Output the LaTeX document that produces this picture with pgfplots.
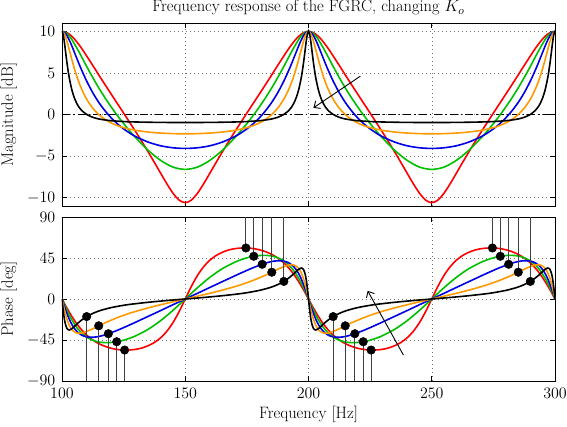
\RequirePackage{fix-cm}
\documentclass[border=0pt]{standalone}
\usepackage{pgfplots}
\pgfplotsset{compat=1.18}
\usepackage{pgfplotstable}
\usetikzlibrary{arrows.meta}
\definecolor{mred}{RGB}{255,0,0}
\definecolor{mgreen}{RGB}{0,191,0}
\definecolor{mblue}{RGB}{0,0,230}
\definecolor{morange}{RGB}{255,153,0}

% columns: frequency [Hz], magnitude [dB], phase [deg]
\pgfplotstableread{
f m p
100 10.00 0
100.5 9.60 -12.7
101 8.62 -22.6
101.5 7.42 -28.8
102 6.25 -32.2
102.5 5.22 -33.7
103 4.33 -34.0
104 2.96 -32.6
105 2.01 -30.2
106 1.33 -27.6
107 0.84 -25.2
108 0.48 -23.0
110 0.01 -19.3
112.5 -0.34 -15.8
115 -0.54 -13.1
117.5 -0.66 -11.1
120 -0.75 -9.4
122.5 -0.80 -8.1
125 -0.85 -6.9
127.5 -0.88 -5.9
130 -0.90 -5.1
135 -0.93 -3.6
140 -0.95 -2.3
145 -0.96 -1.1
150 -0.96 0
155 -0.96 1.1
160 -0.95 2.3
165 -0.93 3.6
170 -0.90 5.1
172.5 -0.88 5.9
175 -0.85 6.9
177.5 -0.80 8.1
180 -0.75 9.4
182.5 -0.66 11.1
185 -0.54 13.1
187.5 -0.34 15.8
190 0.01 19.3
192 0.48 23.0
193 0.84 25.2
194 1.33 27.6
195 2.01 30.2
196 2.96 32.6
197 4.33 34.0
197.5 5.22 33.7
198 6.25 32.2
198.5 7.42 28.8
199 8.62 22.6
199.5 9.60 12.7
200 10.00 0
200.5 9.60 -12.7
201 8.62 -22.6
201.5 7.42 -28.8
202 6.25 -32.2
202.5 5.22 -33.7
203 4.33 -34.0
204 2.96 -32.6
205 2.01 -30.2
206 1.33 -27.6
207 0.84 -25.2
208 0.48 -23.0
210 0.01 -19.3
212.5 -0.34 -15.8
215 -0.54 -13.1
217.5 -0.66 -11.1
220 -0.75 -9.4
222.5 -0.80 -8.1
225 -0.85 -6.9
227.5 -0.88 -5.9
230 -0.90 -5.1
235 -0.93 -3.6
240 -0.95 -2.3
245 -0.96 -1.1
250 -0.96 0
255 -0.96 1.1
260 -0.95 2.3
265 -0.93 3.6
270 -0.90 5.1
272.5 -0.88 5.9
275 -0.85 6.9
277.5 -0.80 8.1
280 -0.75 9.4
282.5 -0.66 11.1
285 -0.54 13.1
287.5 -0.34 15.8
290 0.01 19.3
292 0.48 23.0
293 0.84 25.2
294 1.33 27.6
295 2.01 30.2
296 2.96 32.6
297 4.33 34.0
297.5 5.22 33.7
298 6.25 32.2
298.5 7.42 28.8
299 8.62 22.6
299.5 9.60 12.7
300 10.00 0
}\tblack

\pgfplotstableread{
f m p
100 10.00 0
101 9.67 -12.2
102 8.82 -22.1
103 7.73 -29.2
104 6.61 -33.6
105 5.55 -36.1
106 4.60 -37.3
107 3.76 -37.6
108 3.03 -37.3
110 1.84 -35.6
112.5 0.75 -32.6
115 -0.03 -29.3
117.5 -0.60 -26.1
120 -1.02 -23.2
122.5 -1.34 -20.4
125 -1.58 -17.9
127.5 -1.76 -15.6
130 -1.91 -13.5
135 -2.11 -9.7
140 -2.23 -6.3
145 -2.30 -3.1
150 -2.32 0
155 -2.30 3.1
160 -2.23 6.3
165 -2.11 9.7
170 -1.91 13.5
172.5 -1.76 15.6
175 -1.58 17.9
177.5 -1.34 20.4
180 -1.02 23.2
182.5 -0.60 26.1
185 -0.03 29.3
187.5 0.75 32.6
190 1.84 35.6
192 3.03 37.3
193 3.76 37.6
194 4.60 37.3
195 5.55 36.1
196 6.61 33.6
197 7.73 29.2
198 8.82 22.1
199 9.67 12.2
200 10.00 0
201 9.67 -12.2
202 8.82 -22.1
203 7.73 -29.2
204 6.61 -33.6
205 5.55 -36.1
206 4.60 -37.3
207 3.76 -37.6
208 3.03 -37.3
210 1.84 -35.6
212.5 0.75 -32.6
215 -0.03 -29.3
217.5 -0.60 -26.1
220 -1.02 -23.2
222.5 -1.34 -20.4
225 -1.58 -17.9
227.5 -1.76 -15.6
230 -1.91 -13.5
235 -2.11 -9.7
240 -2.23 -6.3
245 -2.30 -3.1
250 -2.32 0
255 -2.30 3.1
260 -2.23 6.3
265 -2.11 9.7
270 -1.91 13.5
272.5 -1.76 15.6
275 -1.58 17.9
277.5 -1.34 20.4
280 -1.02 23.2
282.5 -0.60 26.1
285 -0.03 29.3
287.5 0.75 32.6
290 1.84 35.6
292 3.03 37.3
293 3.76 37.6
294 4.60 37.3
295 5.55 36.1
296 6.61 33.6
297 7.73 29.2
298 8.82 22.1
299 9.67 12.2
300 10.00 0
}\torange

\pgfplotstableread{
f m p
100 10.00 0
101 9.87 -8.2
102 9.49 -15.8
103 8.92 -22.5
104 8.24 -27.9
105 7.50 -32.2
106 6.76 -35.5
107 6.02 -37.9
108 5.32 -39.7
110 4.02 -41.6
112.5 2.61 -42.0
115 1.42 -41.1
117.5 0.43 -39.3
120 -0.42 -36.9
122.5 -1.13 -34.3
125 -1.73 -31.4
127.5 -2.24 -28.4
130 -2.67 -25.3
135 -3.32 -19.0
140 -3.76 -12.7
145 -4.00 -6.3
150 -4.08 0
155 -4.00 6.3
160 -3.76 12.7
165 -3.32 19.0
170 -2.67 25.3
172.5 -2.24 28.4
175 -1.73 31.4
177.5 -1.13 34.3
180 -0.42 36.9
182.5 0.43 39.3
185 1.42 41.1
187.5 2.61 42.0
190 4.02 41.6
192 5.32 39.7
193 6.02 37.9
194 6.76 35.5
195 7.50 32.2
196 8.24 27.9
197 8.92 22.5
198 9.49 15.8
199 9.87 8.2
200 10.00 0
201 9.87 -8.2
202 9.49 -15.8
203 8.92 -22.5
204 8.24 -27.9
205 7.50 -32.2
206 6.76 -35.5
207 6.02 -37.9
208 5.32 -39.7
210 4.02 -41.6
212.5 2.61 -42.0
215 1.42 -41.1
217.5 0.43 -39.3
220 -0.42 -36.9
222.5 -1.13 -34.3
225 -1.73 -31.4
227.5 -2.24 -28.4
230 -2.67 -25.3
235 -3.32 -19.0
240 -3.76 -12.7
245 -4.00 -6.3
250 -4.08 0
255 -4.00 6.3
260 -3.76 12.7
265 -3.32 19.0
270 -2.67 25.3
272.5 -2.24 28.4
275 -1.73 31.4
277.5 -1.13 34.3
280 -0.42 36.9
282.5 0.43 39.3
285 1.42 41.1
287.5 2.61 42.0
290 4.02 41.6
292 5.32 39.7
293 6.02 37.9
294 6.76 35.5
295 7.50 32.2
296 8.24 27.9
297 8.92 22.5
298 9.49 15.8
299 9.87 8.2
300 10.00 0
}\tblue

\pgfplotstableread{
f m p
100 10.00 0
101 9.93 -6.2
102 9.73 -12.2
103 9.42 -17.8
104 9.01 -22.8
106 8.01 -31.2
108 6.91 -37.4
110 5.78 -41.8
112.5 4.43 -45.3
115 3.16 -47.2
117.5 1.98 -47.9
120 0.89 -47.7
122.5 -0.14 -46.8
125 -1.09 -45.2
127.5 -1.99 -43.0
130 -2.82 -40.3
135 -4.32 -33.2
140 -5.51 -23.8
145 -6.32 -12.5
150 -6.60 0
155 -6.32 12.5
160 -5.51 23.8
165 -4.32 33.2
170 -2.82 40.3
172.5 -1.99 43.0
175 -1.09 45.2
177.5 -0.14 46.8
180 0.89 47.7
182.5 1.98 47.9
185 3.16 47.2
187.5 4.43 45.3
190 5.78 41.8
192 6.91 37.4
194 8.01 31.2
196 9.01 22.8
197 9.42 17.8
198 9.73 12.2
199 9.93 6.2
200 10.00 0
201 9.93 -6.2
202 9.73 -12.2
203 9.42 -17.8
204 9.01 -22.8
206 8.01 -31.2
208 6.91 -37.4
210 5.78 -41.8
212.5 4.43 -45.3
215 3.16 -47.2
217.5 1.98 -47.9
220 0.89 -47.7
222.5 -0.14 -46.8
225 -1.09 -45.2
227.5 -1.99 -43.0
230 -2.82 -40.3
235 -4.32 -33.2
240 -5.51 -23.8
245 -6.32 -12.5
250 -6.60 0
255 -6.32 12.5
260 -5.51 23.8
265 -4.32 33.2
270 -2.82 40.3
272.5 -1.99 43.0
275 -1.09 45.2
277.5 -0.14 46.8
280 0.89 47.7
282.5 1.98 47.9
285 3.16 47.2
287.5 4.43 45.3
290 5.78 41.8
292 6.91 37.4
294 8.01 31.2
296 9.01 22.8
297 9.42 17.8
298 9.73 12.2
299 9.93 6.2
300 10.00 0
}\tgreen

\pgfplotstableread{
f m p
100 10.00 0
102 9.84 -9.9
104 9.40 -19.1
106 8.73 -27.2
108 7.93 -34.0
110 7.04 -39.6
112.5 5.89 -45.0
115 4.72 -49.1
117.5 3.57 -52.0
120 2.43 -54.1
122.5 1.30 -55.4
125 0.17 -56.0
127.5 -0.97 -55.9
130 -2.12 -55.2
132.5 -3.30 -53.7
135 -4.52 -51.2
137.5 -5.77 -47.7
140 -7.05 -42.6
142.5 -8.31 -35.5
145 -9.45 -26.0
147.5 -10.29 -13.9
150 -10.60 0
152.5 -10.29 13.9
155 -9.45 26.0
157.5 -8.31 35.5
160 -7.05 42.6
162.5 -5.77 47.7
165 -4.52 51.2
167.5 -3.30 53.7
170 -2.12 55.2
172.5 -0.97 55.9
175 0.17 56.0
177.5 1.30 55.4
180 2.43 54.1
182.5 3.57 52.0
185 4.72 49.1
187.5 5.89 45.0
190 7.04 39.6
192 7.93 34.0
194 8.73 27.2
196 9.40 19.1
198 9.84 9.9
200 10.00 0
202 9.84 -9.9
204 9.40 -19.1
206 8.73 -27.2
208 7.93 -34.0
210 7.04 -39.6
212.5 5.89 -45.0
215 4.72 -49.1
217.5 3.57 -52.0
220 2.43 -54.1
222.5 1.30 -55.4
225 0.17 -56.0
227.5 -0.97 -55.9
230 -2.12 -55.2
232.5 -3.30 -53.7
235 -4.52 -51.2
237.5 -5.77 -47.7
240 -7.05 -42.6
242.5 -8.31 -35.5
245 -9.45 -26.0
247.5 -10.29 -13.9
250 -10.60 0
252.5 -10.29 13.9
255 -9.45 26.0
257.5 -8.31 35.5
260 -7.05 42.6
262.5 -5.77 47.7
265 -4.52 51.2
267.5 -3.30 53.7
270 -2.12 55.2
272.5 -0.97 55.9
275 0.17 56.0
277.5 1.30 55.4
280 2.43 54.1
282.5 3.57 52.0
285 4.72 49.1
287.5 5.89 45.0
290 7.04 39.6
292 7.93 34.0
294 8.73 27.2
296 9.40 19.1
298 9.84 9.9
300 10.00 0
}\tred

\pgfplotsset{
  myax/.style={
    scale only axis, width=493pt,
    xmin=100, xmax=300,
    xtick={100,150,200,250,300},
    grid=major,
    major grid style={black!55, line width=0.5pt, dash pattern=on 0.8pt off 3.2pt},
    axis line style={line width=0.9pt},
    tick style={black, line width=0.8pt},
    major tick length=5pt,
    tick label style={font=\fontsize{16}{19}\selectfont},
    xticklabel style={yshift=-1pt},
    yticklabel style={xshift=-1pt},
    ylabel style={yshift=-1pt},
  },
  crv/.style={line width=1.6pt, smooth},
}

\begin{document}
\fontsize{16.5}{19.5}\selectfont
\begin{tikzpicture}
\useasboundingbox (0,0) rectangle (567pt,426pt);
% ---------- magnitude ----------
\begin{axis}[myax,
  at={(62pt,220pt)}, anchor=south west, height=183pt,
  ymin=-11, ymax=11, ytick={-10,-5,0,5,10},
  xticklabels=\empty,
  ylabel={Magnitude [dB]},
  title={Frequency response of the FGRC, changing $K_o$},
  title style={yshift=-4pt},
]
\addplot[black, line width=1.4pt, dash pattern=on 8pt off 3pt on 1.5pt off 3pt] coordinates {(100,0) (300,0)};
\addplot[crv, mred] table[x=f, y=m] {\tred};
\addplot[crv, mgreen] table[x=f, y=m] {\tgreen};
\addplot[crv, mblue] table[x=f, y=m] {\tblue};
\addplot[crv, morange] table[x=f, y=m] {\torange};
\addplot[crv, black] table[x=f, y=m] {\tblack};
\addplot[black, line width=0.9pt, -{Straight Barb[length=5pt,width=9pt]}] coordinates {(221,4.6) (202,0.8)};
\end{axis}
% ---------- phase ----------
\begin{axis}[myax,
  at={(62pt,45pt)}, anchor=south west, height=164pt,
  ymin=-90, ymax=90, ytick={-90,-45,0,45,90},
  xlabel={Frequency [Hz]},
  xlabel style={yshift=3pt},
  ylabel={Phase [deg]},
  unbounded coords=jump,
]
\addplot[crv, mred] table[x=f, y=p] {\tred};
\addplot[crv, mgreen] table[x=f, y=p] {\tgreen};
\addplot[crv, mblue] table[x=f, y=p] {\tblue};
\addplot[crv, morange] table[x=f, y=p] {\torange};
\addplot[crv, black] table[x=f, y=p] {\tblack};
\addplot[black!75, line width=0.8pt] coordinates {
(110,-19.3) (110,-90) (110,nan)
(114.9,-29.4) (114.9,-90) (114.9,nan)
(118.8,-38.1) (118.8,-90) (118.8,nan)
(122.2,-46.9) (122.2,-90) (122.2,nan)
(125.4,-56.0) (125.4,-90) (125.4,nan)
(174.6,56.0) (174.6,90) (174.6,nan)
(177.8,46.9) (177.8,90) (177.8,nan)
(181.2,38.1) (181.2,90) (181.2,nan)
(185.1,29.4) (185.1,90) (185.1,nan)
(190,19.3) (190,90) (190,nan)
(210,-19.3) (210,-90) (210,nan)
(214.9,-29.4) (214.9,-90) (214.9,nan)
(218.8,-38.1) (218.8,-90) (218.8,nan)
(222.2,-46.9) (222.2,-90) (222.2,nan)
(225.4,-56.0) (225.4,-90) (225.4,nan)
(274.6,56.0) (274.6,90) (274.6,nan)
(277.8,46.9) (277.8,90) (277.8,nan)
(281.2,38.1) (281.2,90) (281.2,nan)
(285.1,29.4) (285.1,90) (285.1,nan)
(290,19.3) (290,90)
};
\addplot[only marks, mark=*, mark size=4.3pt, black] coordinates {
(110,-19.3) (114.9,-29.4) (118.8,-38.1) (122.2,-46.9) (125.4,-56.0)
(174.6,56.0) (177.8,46.9) (181.2,38.1) (185.1,29.4) (190,19.3)
(210,-19.3) (214.9,-29.4) (218.8,-38.1) (222.2,-46.9) (225.4,-56.0)
(274.6,56.0) (277.8,46.9) (281.2,38.1) (285.1,29.4) (290,19.3)
};
\addplot[black, line width=0.9pt, -{Straight Barb[length=5pt,width=9pt]}] coordinates {(238.5,-61.5) (224,9)};
\end{axis}
\end{tikzpicture}
\end{document}
